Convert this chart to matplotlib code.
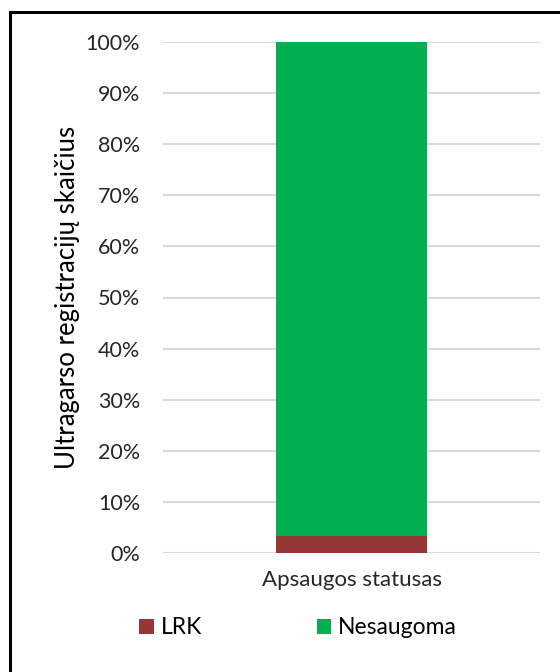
import matplotlib
matplotlib.use("Agg")
import matplotlib.pyplot as plt
from matplotlib.patches import Patch
from matplotlib.lines import Line2D

plt.rcParams['font.family'] = ['Lato', 'DejaVu Sans']

categories = ["Apsaugos statusas"]
series_names = ["LRK", "Nesaugoma"]
lrk = [3.4]
nesaugoma = [96.6]
colors = ["#953735", "#00B050"]
yticks = [0, 10, 20, 30, 40, 50, 60, 70, 80, 90, 100]

W, H = 560, 672
fig = plt.figure(figsize=(W / 100, H / 100), dpi=100)
ax = fig.add_axes([163 / W, 1 - 553 / H, (540 - 163) / W, (553 - 42) / H])

x = range(len(categories))
ax.bar(x, lrk, width=0.4, color=colors[0], zorder=3)
ax.bar(x, nesaugoma, width=0.4, bottom=lrk, color=colors[1], zorder=3)

ax.set_xlim(-0.5, 0.5)
ax.set_ylim(0, 100)
ax.set_yticks(yticks)
ax.set_yticklabels([f"{v}%" for v in yticks], fontsize=15.5, color="#262626")
ax.set_xticks(list(x))
ax.set_xticklabels(categories, fontsize=16, color="#262626")
ax.tick_params(axis="both", length=0)
ax.tick_params(axis="y", pad=16.5)
ax.tick_params(axis="x", pad=12)
ax.grid(axis="y", color="#D9D9D9", linewidth=1.5, zorder=0)
for s in ax.spines.values():
    s.set_visible(False)

ax.set_ylabel("Ultragarso registracijų skaičius", fontsize=18.5, color="#000000")
ax.yaxis.set_label_coords(-0.22, 0.5)

handles = [Patch(facecolor=c, edgecolor="none") for c in colors]
fig.legend(handles, series_names, loc="center", bbox_to_anchor=(298 / W, 1 - 628 / H),
           ncol=2, frameon=False, fontsize=16.5, handlelength=0.65, handleheight=0.65,
           handletextpad=0.3, columnspacing=5.0)

# frame around the chart
fig.add_artist(Line2D([10 / W, 10 / W], [1 - 12 / H, -0.1], color="black", linewidth=2.2,
                      transform=fig.transFigure, clip_on=False))
fig.add_artist(Line2D([10 / W, 1.1], [1 - 12 / H, 1 - 12 / H], color="black", linewidth=2.2,
                      transform=fig.transFigure, clip_on=False))

fig.savefig("out.png", dpi=100, facecolor="white")
